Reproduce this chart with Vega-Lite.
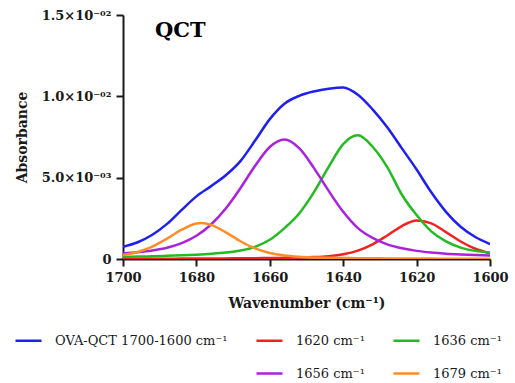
{
  "$schema": "https://vega.github.io/schema/vega-lite/v6.json",
  "width": 367,
  "height": 244,
  "autosize": "none",
  "padding": {"left": 123, "top": 15, "right": 25, "bottom": 124},
  "background": "white",
  "title": {"text": "QCT", "anchor": "start", "frame": "group", "font": "DejaVu Serif", "fontSize": 21, "fontWeight": "bold", "color": "black", "baseline": "alphabetic", "offset": -25, "dx": 32, "dy": 24},
  "data": {"values": [
    {"x":1700,"y":0.00075,"s":"OVA-QCT 1700-1600 cm⁻¹"},{"x":1696,"y":0.00103,"s":"OVA-QCT 1700-1600 cm⁻¹"},{"x":1692,"y":0.00149,"s":"OVA-QCT 1700-1600 cm⁻¹"},{"x":1688,"y":0.00216,"s":"OVA-QCT 1700-1600 cm⁻¹"},{"x":1684,"y":0.00302,"s":"OVA-QCT 1700-1600 cm⁻¹"},{"x":1680,"y":0.00385,"s":"OVA-QCT 1700-1600 cm⁻¹"},{"x":1676,"y":0.00448,"s":"OVA-QCT 1700-1600 cm⁻¹"},{"x":1672,"y":0.00515,"s":"OVA-QCT 1700-1600 cm⁻¹"},{"x":1668,"y":0.00602,"s":"OVA-QCT 1700-1600 cm⁻¹"},{"x":1664,"y":0.00728,"s":"OVA-QCT 1700-1600 cm⁻¹"},{"x":1660,"y":0.0086,"s":"OVA-QCT 1700-1600 cm⁻¹"},{"x":1656,"y":0.00955,"s":"OVA-QCT 1700-1600 cm⁻¹"},{"x":1652,"y":0.01003,"s":"OVA-QCT 1700-1600 cm⁻¹"},{"x":1648,"y":0.0103,"s":"OVA-QCT 1700-1600 cm⁻¹"},{"x":1644,"y":0.01047,"s":"OVA-QCT 1700-1600 cm⁻¹"},{"x":1640,"y":0.01055,"s":"OVA-QCT 1700-1600 cm⁻¹"},{"x":1636,"y":0.0101,"s":"OVA-QCT 1700-1600 cm⁻¹"},{"x":1632,"y":0.0092,"s":"OVA-QCT 1700-1600 cm⁻¹"},{"x":1628,"y":0.0081,"s":"OVA-QCT 1700-1600 cm⁻¹"},{"x":1624,"y":0.0068,"s":"OVA-QCT 1700-1600 cm⁻¹"},{"x":1620,"y":0.0055,"s":"OVA-QCT 1700-1600 cm⁻¹"},{"x":1616,"y":0.0041,"s":"OVA-QCT 1700-1600 cm⁻¹"},{"x":1612,"y":0.0029,"s":"OVA-QCT 1700-1600 cm⁻¹"},{"x":1608,"y":0.00198,"s":"OVA-QCT 1700-1600 cm⁻¹"},{"x":1604,"y":0.00135,"s":"OVA-QCT 1700-1600 cm⁻¹"},{"x":1600,"y":0.00092,"s":"OVA-QCT 1700-1600 cm⁻¹"},
    {"x":1700,"y":0.000016,"s":"1620 cm⁻¹"},{"x":1696,"y":0.000017,"s":"1620 cm⁻¹"},{"x":1692,"y":0.000019,"s":"1620 cm⁻¹"},{"x":1688,"y":0.000022,"s":"1620 cm⁻¹"},{"x":1684,"y":0.000024,"s":"1620 cm⁻¹"},{"x":1680,"y":0.000028,"s":"1620 cm⁻¹"},{"x":1676,"y":0.000031,"s":"1620 cm⁻¹"},{"x":1672,"y":0.000036,"s":"1620 cm⁻¹"},{"x":1668,"y":0.000042,"s":"1620 cm⁻¹"},{"x":1664,"y":0.00005,"s":"1620 cm⁻¹"},{"x":1660,"y":0.000059,"s":"1620 cm⁻¹"},{"x":1656,"y":0.000072,"s":"1620 cm⁻¹"},{"x":1652,"y":0.00009,"s":"1620 cm⁻¹"},{"x":1648,"y":0.00012,"s":"1620 cm⁻¹"},{"x":1644,"y":0.000176,"s":"1620 cm⁻¹"},{"x":1640,"y":0.00029,"s":"1620 cm⁻¹"},{"x":1636,"y":0.000515,"s":"1620 cm⁻¹"},{"x":1632,"y":0.000901,"s":"1620 cm⁻¹"},{"x":1628,"y":0.001446,"s":"1620 cm⁻¹"},{"x":1624,"y":0.002027,"s":"1620 cm⁻¹"},{"x":1620,"y":0.002361,"s":"1620 cm⁻¹"},{"x":1616,"y":0.002191,"s":"1620 cm⁻¹"},{"x":1612,"y":0.001656,"s":"1620 cm⁻¹"},{"x":1608,"y":0.001077,"s":"1620 cm⁻¹"},{"x":1604,"y":0.00063,"s":"1620 cm⁻¹"},{"x":1600,"y":0.000353,"s":"1620 cm⁻¹"},
    {"x":1700,"y":0.000131,"s":"1636 cm⁻¹"},{"x":1696,"y":0.000148,"s":"1636 cm⁻¹"},{"x":1692,"y":0.000169,"s":"1636 cm⁻¹"},{"x":1688,"y":0.000195,"s":"1636 cm⁻¹"},{"x":1684,"y":0.000227,"s":"1636 cm⁻¹"},{"x":1680,"y":0.000268,"s":"1636 cm⁻¹"},{"x":1676,"y":0.000321,"s":"1636 cm⁻¹"},{"x":1672,"y":0.000396,"s":"1636 cm⁻¹"},{"x":1668,"y":0.00052,"s":"1636 cm⁻¹"},{"x":1664,"y":0.00075,"s":"1636 cm⁻¹"},{"x":1660,"y":0.00118,"s":"1636 cm⁻¹"},{"x":1656,"y":0.0019,"s":"1636 cm⁻¹"},{"x":1652,"y":0.0028,"s":"1636 cm⁻¹"},{"x":1648,"y":0.0041,"s":"1636 cm⁻¹"},{"x":1644,"y":0.00565,"s":"1636 cm⁻¹"},{"x":1640,"y":0.00706,"s":"1636 cm⁻¹"},{"x":1636,"y":0.0076,"s":"1636 cm⁻¹"},{"x":1632,"y":0.0069,"s":"1636 cm⁻¹"},{"x":1628,"y":0.00565,"s":"1636 cm⁻¹"},{"x":1624,"y":0.00395,"s":"1636 cm⁻¹"},{"x":1620,"y":0.0027,"s":"1636 cm⁻¹"},{"x":1616,"y":0.0017,"s":"1636 cm⁻¹"},{"x":1612,"y":0.00108,"s":"1636 cm⁻¹"},{"x":1608,"y":0.0007,"s":"1636 cm⁻¹"},{"x":1604,"y":0.0005,"s":"1636 cm⁻¹"},{"x":1600,"y":0.0004,"s":"1636 cm⁻¹"},
    {"x":1700,"y":0.000343,"s":"1656 cm⁻¹"},{"x":1696,"y":0.000415,"s":"1656 cm⁻¹"},{"x":1692,"y":0.000523,"s":"1656 cm⁻¹"},{"x":1688,"y":0.000693,"s":"1656 cm⁻¹"},{"x":1684,"y":0.000972,"s":"1656 cm⁻¹"},{"x":1680,"y":0.001425,"s":"1656 cm⁻¹"},{"x":1676,"y":0.00212,"s":"1656 cm⁻¹"},{"x":1672,"y":0.0031,"s":"1656 cm⁻¹"},{"x":1668,"y":0.004355,"s":"1656 cm⁻¹"},{"x":1664,"y":0.005727,"s":"1656 cm⁻¹"},{"x":1660,"y":0.006883,"s":"1656 cm⁻¹"},{"x":1656,"y":0.00734,"s":"1656 cm⁻¹"},{"x":1652,"y":0.00681,"s":"1656 cm⁻¹"},{"x":1648,"y":0.0056,"s":"1656 cm⁻¹"},{"x":1644,"y":0.0042,"s":"1656 cm⁻¹"},{"x":1640,"y":0.0029,"s":"1656 cm⁻¹"},{"x":1636,"y":0.0019,"s":"1656 cm⁻¹"},{"x":1632,"y":0.0013,"s":"1656 cm⁻¹"},{"x":1628,"y":0.0009,"s":"1656 cm⁻¹"},{"x":1624,"y":0.00066,"s":"1656 cm⁻¹"},{"x":1620,"y":0.0005,"s":"1656 cm⁻¹"},{"x":1616,"y":0.0004,"s":"1656 cm⁻¹"},{"x":1612,"y":0.00033,"s":"1656 cm⁻¹"},{"x":1608,"y":0.00028,"s":"1656 cm⁻¹"},{"x":1604,"y":0.00024,"s":"1656 cm⁻¹"},{"x":1600,"y":0.00021,"s":"1656 cm⁻¹"},
    {"x":1700,"y":0.000246,"s":"1679 cm⁻¹"},{"x":1696,"y":0.000434,"s":"1679 cm⁻¹"},{"x":1692,"y":0.000765,"s":"1679 cm⁻¹"},{"x":1688,"y":0.00125,"s":"1679 cm⁻¹"},{"x":1684,"y":0.0018,"s":"1679 cm⁻¹"},{"x":1680,"y":0.00218,"s":"1679 cm⁻¹"},{"x":1678.6,"y":0.00221,"s":"1679 cm⁻¹"},{"x":1676,"y":0.0021,"s":"1679 cm⁻¹"},{"x":1672,"y":0.00164,"s":"1679 cm⁻¹"},{"x":1668,"y":0.00109,"s":"1679 cm⁻¹"},{"x":1664,"y":0.000648,"s":"1679 cm⁻¹"},{"x":1660,"y":0.000364,"s":"1679 cm⁻¹"},{"x":1656,"y":0.00021,"s":"1679 cm⁻¹"},{"x":1652,"y":0.000135,"s":"1679 cm⁻¹"},{"x":1648,"y":0.000097,"s":"1679 cm⁻¹"},{"x":1644,"y":0.000075,"s":"1679 cm⁻¹"},{"x":1640,"y":0.000061,"s":"1679 cm⁻¹"},{"x":1636,"y":0.000051,"s":"1679 cm⁻¹"},{"x":1632,"y":0.000043,"s":"1679 cm⁻¹"},{"x":1628,"y":0.000037,"s":"1679 cm⁻¹"},{"x":1624,"y":0.000032,"s":"1679 cm⁻¹"},{"x":1620,"y":0.000028,"s":"1679 cm⁻¹"},{"x":1616,"y":0.000024,"s":"1679 cm⁻¹"},{"x":1612,"y":0.000022,"s":"1679 cm⁻¹"},{"x":1608,"y":0.000019,"s":"1679 cm⁻¹"},{"x":1604,"y":0.000017,"s":"1679 cm⁻¹"},{"x":1600,"y":0.000016,"s":"1679 cm⁻¹"}
  ]},
  "mark": {"type": "line", "interpolate": "monotone", "strokeWidth": 2.5, "clip": true},
  "encoding": {
    "x": {"field": "x", "type": "quantitative",
      "scale": {"domain": [1600, 1700], "reverse": true, "nice": false, "zero": false},
      "axis": {"title": "Wavenumber (cm⁻¹)", "values": [1700, 1680, 1660, 1640, 1620, 1600], "format": "d", "grid": false, "labelFlush": false, "labelOverlap": false,
        "domainColor": "#1a1a1a", "domainWidth": 2, "tickColor": "#1a1a1a", "tickWidth": 2, "tickSize": 7,
        "labelFont": "DejaVu Serif", "labelFontSize": 13, "labelFontWeight": "bold", "labelColor": "#1a1a1a", "labelPadding": 5,
        "titleFont": "DejaVu Serif", "titleFontSize": 14, "titleFontWeight": "bold", "titleColor": "#1a1a1a", "titlePadding": 12}},
    "y": {"field": "y", "type": "quantitative",
      "scale": {"domain": [0, 0.015], "nice": false},
      "axis": {"title": "Absorbance", "values": [0, 0.005, 0.01, 0.015], "grid": false, "labelFlush": false,
        "labelExpr": "datum.value > 0.012 ? '1.5×10⁻⁰²' : datum.value > 0.007 ? '1.0×10⁻⁰²' : datum.value > 0.002 ? '5.0×10⁻⁰³' : '0'",
        "domainColor": "#1a1a1a", "domainWidth": 2, "tickColor": "#1a1a1a", "tickWidth": 2, "tickSize": 7,
        "labelFont": "DejaVu Serif", "labelFontSize": 13, "labelFontWeight": "bold", "labelColor": "#1a1a1a", "labelPadding": 5,
        "titleFont": "DejaVu Serif", "titleFontSize": 14, "titleFontWeight": "bold", "titleColor": "#1a1a1a", "titlePadding": 12}},
    "color": {"field": "s", "type": "nominal",
      "scale": {"domain": ["OVA-QCT 1700-1600 cm⁻¹", " ", "1620 cm⁻¹", "1656 cm⁻¹", "1636 cm⁻¹", "1679 cm⁻¹"],
                "range": ["#1f1fef", "transparent", "#f52020", "#aa22dd", "#22bb22", "#ff8c26"]},
      "legend": {"title": null, "orient": "none", "legendX": -109, "legendY": 311, "columns": 3, "symbolType": "stroke", "symbolSize": 676, "symbolStrokeWidth": 2.5,
        "labelFont": "DejaVu Serif", "labelFontSize": 13, "labelColor": "#1a1a1a", "labelOffset": 12, "labelLimit": 0, "columnPadding": 23, "rowPadding": 11, "gridAlign": "each"}}
  },
  "config": {"view": {"stroke": null}}
}
